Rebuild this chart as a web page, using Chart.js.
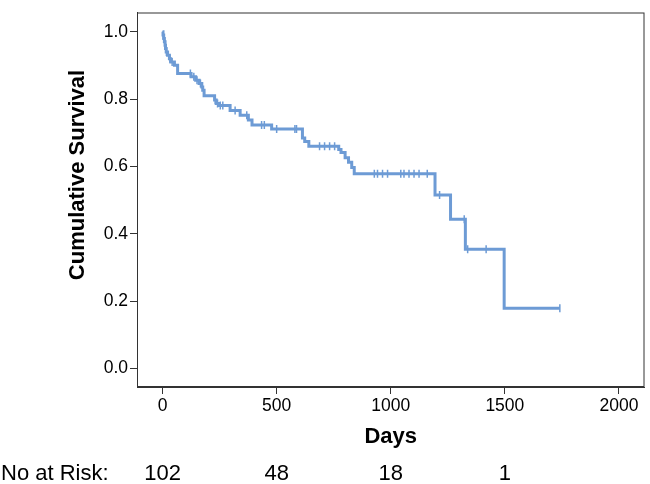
<!DOCTYPE html>
<html>
<head>
<meta charset="utf-8">
<script src="https://cdn.jsdelivr.net/npm/chart.js@4.4.0/dist/chart.umd.min.js"></script>
<style>
  html, body { margin: 0; padding: 0; background: #fff; }
  #wrap { width: 650px; height: 484px; position: relative; }
</style>
</head>
<body>
<div id="wrap"><canvas id="km"></canvas></div>
<script>
// Kaplan-Meier steps: day of event and survival after it
var eventDays = [0, 2, 5, 8, 11, 13, 16, 22, 30, 36, 52, 66, 125, 145, 160, 172, 176, 182,
    228, 235, 247, 296, 340, 376, 392, 478, 613, 623, 641, 772, 782, 800, 815, 829, 840,
    1194, 1262, 1327, 1497, 1741];
var eventSurv = [1.0, 0.99, 0.98, 0.97, 0.96, 0.95, 0.94, 0.93, 0.92, 0.91, 0.90, 0.876, 0.866, 0.856, 0.846, 0.836, 0.826, 0.81,
    0.797, 0.787, 0.781, 0.766, 0.752, 0.738, 0.723, 0.711, 0.684, 0.674, 0.66, 0.65, 0.641, 0.626, 0.612, 0.597, 0.578,
    0.515, 0.443, 0.354, 0.179, 0.179];
// censored cases
var censorDays = [3, 17, 32, 42, 122, 137, 151, 166, 231, 241, 253, 264, 318, 369, 434, 446, 500,
    580, 587, 688, 710, 732, 754, 928, 942, 964, 986, 1044, 1058, 1080, 1102, 1124, 1160,
    1214, 1322, 1337, 1418, 1741];

var xTicks = [0, 500, 1000, 1500, 2000];
var yTicks = [0, 0.2, 0.4, 0.6, 0.8, 1.0];
var riskDays = [0, 500, 1000, 1500];
var riskCounts = [102, 48, 18, 1];

var FONT = '"Liberation Sans", Arial, sans-serif';
var BLUE = '#6d9bd5';
var AXIS = '#333333';

function survAt(day) {
    var s = eventSurv[0];
    for (var i = 0; i < eventDays.length; i++) {
        if (eventDays[i] <= day) s = eventSurv[i];
    }
    return s;
}

var stepPoints = eventDays.map(function (d, i) { return { x: d, y: eventSurv[i] }; });
var censorPoints = censorDays.map(function (d) { return { x: d, y: survAt(d) }; });

// frame, y title and the number-at-risk row
var extras = {
    id: 'extras',
    afterDraw: function (chart) {
        var ctx = chart.ctx;
        var a = chart.chartArea;
        ctx.save();
        ctx.strokeStyle = AXIS;
        ctx.lineWidth = 1;
        ctx.strokeRect(a.left + 0.5, a.top + 0.5, a.right - a.left - 1, a.bottom - a.top - 1);

        ctx.fillStyle = '#000';
        ctx.font = 'bold 22px ' + FONT;
        ctx.textAlign = 'center';
        ctx.textBaseline = 'middle';
        ctx.translate(78, 175);
        ctx.rotate(-Math.PI / 2);
        ctx.fillText('Cumulative Survival', 0, 0);
        ctx.restore();

        ctx.save();
        ctx.fillStyle = '#000';
        ctx.font = '22px ' + FONT;
        ctx.textBaseline = 'middle';
        ctx.textAlign = 'left';
        ctx.fillText('No at Risk:', 1, 474);
        ctx.textAlign = 'center';
        var xs = chart.scales.x;
        riskDays.forEach(function (d, i) {
            ctx.fillText(String(riskCounts[i]), xs.getPixelForValue(d), 474);
        });
        ctx.restore();
    }
};

new Chart(document.getElementById('km'), {
    type: 'scatter',
    data: {
        datasets: [{
            label: 'Survival',
            data: stepPoints,
            showLine: true,
            stepped: 'before',
            borderColor: BLUE,
            borderWidth: 3,
            pointRadius: 0,
            fill: false
        }, {
            label: 'Censored',
            data: censorPoints,
            pointStyle: 'line',
            rotation: 90,
            radius: 4,
            borderColor: BLUE,
            borderWidth: 1.5,
            backgroundColor: BLUE
        }]
    },
    options: {
        responsive: true,
        maintainAspectRatio: false,
        animation: false,
        layout: { padding: { left: 0, right: 4, top: 3, bottom: 34 } },
        plugins: {
            legend: { display: false },
            tooltip: { enabled: false }
        },
        scales: {
            x: {
                type: 'linear',
                min: -112,
                max: 2112,
                afterBuildTicks: function (s) { s.ticks = xTicks.map(function (v) { return { value: v }; }); },
                afterFit: function (s) { s.height = 63; },
                grid: { drawOnChartArea: false, tickLength: 7, tickColor: AXIS },
                border: { display: true, color: AXIS },
                ticks: {
                    color: '#000', padding: 2, maxRotation: 0, font: { family: FONT, size: 17.5 },
                    callback: function (v) { return String(v); }
                },
                title: { display: true, text: 'Days', color: '#000', padding: 0, font: { family: FONT, size: 22, weight: 'bold' } }
            },
            y: {
                min: -0.055,
                max: 1.057,
                afterBuildTicks: function (s) { s.ticks = yTicks.map(function (v) { return { value: v }; }); },
                afterFit: function (s) { s.width = 137; },
                grid: { drawOnChartArea: false, tickLength: 7, tickColor: AXIS },
                border: { display: true, color: AXIS },
                ticks: {
                    color: '#000', padding: 2, font: { family: FONT, size: 17.5 },
                    callback: function (v) { return v.toFixed(1); }
                }
            }
        }
    },
    plugins: [extras]
});
</script>
</body>
</html>
